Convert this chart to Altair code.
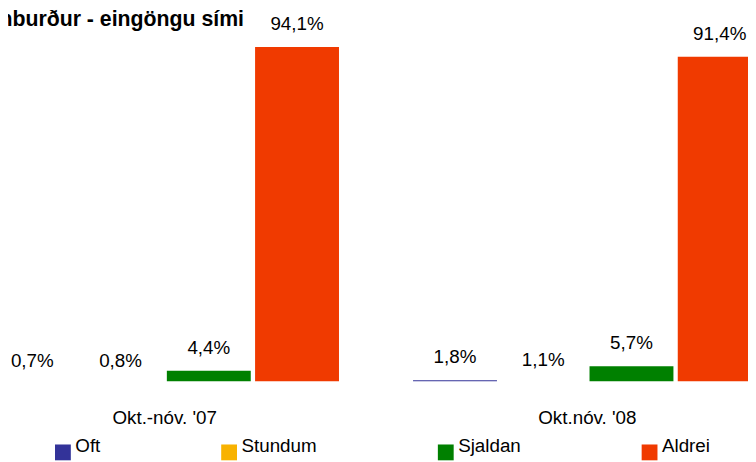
import altair as alt
import pandas as pd

periods = ["Okt.-nóv. '07", "Okt.nóv. '08"]
series = ["Oft", "Stundum", "Sjaldan", "Aldrei"]
values_07 = [0.7, 0.8, 4.4, 94.1]
values_08 = [1.8, 1.1, 5.7, 91.4]
colors = ["#333399", "#F8B200", "#008000", "#F03A00"]
title_text = "Samanburður - eingöngu sími"

rows = []
for p, vals in zip(periods, [values_07, values_08]):
    for s, v in zip(series, vals):
        rows.append({"period": p, "series": s, "value": v,
                     "label": f"{v:.1f}%".replace(".", ",")})
df = pd.DataFrame(rows)

FONT = "Liberation Sans"
FS = 19
Y_MIN, Y_MAX = 1.47, 104.24

x_enc = alt.X(
    "period:N", sort=periods,
    scale=alt.Scale(range=[-20, 764], paddingInner=0.165, paddingOuter=0),
    axis=alt.Axis(title=None, labelAngle=0, domain=False, ticks=False, tickSize=0,
                  grid=False, labelFont=FONT, labelFontSize=FS, labelColor="#000000",
                  labelPadding=43, labelBaseline="alphabetic"),
)
xo_enc = alt.XOffset("series:N", sort=series,
                     scale=alt.Scale(paddingInner=0.049, paddingOuter=0.0245))
y_enc = alt.Y("value:Q", scale=alt.Scale(domain=[Y_MIN, Y_MAX], zero=False, nice=False),
              axis=None)

bars = alt.Chart(df).mark_bar(clip=True).encode(
    x=x_enc, xOffset=xo_enc, y=y_enc, y2=alt.datum(Y_MIN),
    color=alt.Color(
        "series:N", sort=series,
        scale=alt.Scale(domain=series, range=colors),
        legend=alt.Legend(title=None, orient="none", legendX=46, legendY=437,
                          direction="horizontal", columns=4, symbolType="square",
                          symbolSize=256, symbolStrokeWidth=0, symbolOpacity=1,
                          labelFont=FONT, labelFontSize=FS, labelColor="#000000",
                          labelOffset=3, columnPadding=120, padding=0,
                          labelBaseline="alphabetic"),
    ),
)

labels = alt.Chart(df).mark_text(
    baseline="alphabetic", dy=-17, font=FONT, fontSize=FS, color="#000000"
).encode(x=x_enc, xOffset=xo_enc, y=y_enc, text="label:N")

title = alt.Chart(alt.Data(values=[{"t": title_text}])).mark_text(
    align="left", baseline="alphabetic", font=FONT, fontSize=21.5, fontWeight="bold",
    color="#000000"
).encode(x=alt.value(-66), y=alt.value(16), text="t:N")

chart = alt.layer(bars, labels, title).properties(
    width=748, height=375,
    autosize=alt.AutoSizeParams(type="none"),
    padding={"left": 0, "top": 0, "right": 0, "bottom": 79},
).configure_view(stroke=None)

chart.save("out.html", embed_options={"renderer": "svg", "actions": False})
